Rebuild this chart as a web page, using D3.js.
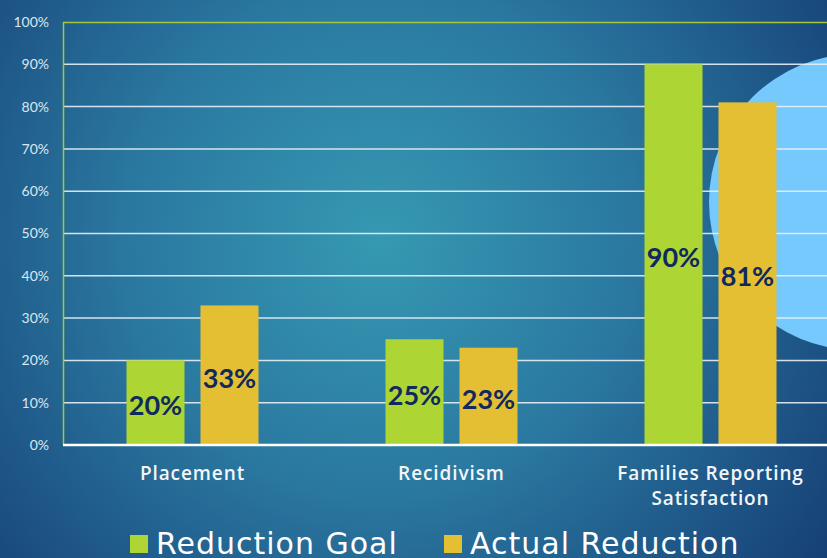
<!DOCTYPE html>
<meta charset="utf-8">
<style>
body { margin: 0; overflow: hidden; }
</style>
<body>
<script src="https://cdn.jsdelivr.net/npm/d3@7"></script>
<script>

// chart data
var categories = ["Placement", "Recidivism", "Families Reporting Satisfaction"];
var catLines = [["Placement"], ["Recidivism"], ["Families Reporting", "Satisfaction"]];
var seriesNames = ["Reduction Goal", "Actual Reduction"];
var goalValues = [20, 25, 90];
var actualValues = [33, 23, 81];
var yTicks = [0, 10, 20, 30, 40, 50, 60, 70, 80, 90, 100];

var w = 827, h = 558;
var colors = ["#add533", "#e5bf33"];

var svg = d3.select("body").append("svg")
    .attr("width", w)
    .attr("height", h)
    .attr("font-family", "Lato, sans-serif")
    .style("display", "block");

// background
var defs = svg.append("defs");
var grad = defs.append("radialGradient")
    .attr("id", "bg")
    .attr("gradientUnits", "userSpaceOnUse")
    .attr("cx", 380).attr("cy", 240).attr("r", 560);
grad.append("stop").attr("offset", "0%").attr("stop-color", "#3699b2");
grad.append("stop").attr("offset", "45%").attr("stop-color", "#2a78a0");
grad.append("stop").attr("offset", "100%").attr("stop-color", "#153d74");

svg.append("rect")
    .attr("width", w).attr("height", h)
    .attr("fill", "url(#bg)");

// decorative circle on the right
svg.append("circle")
    .attr("cx", 857).attr("cy", 202).attr("r", 148)
    .attr("fill", "#76c9fc");

var x0 = d3.scaleBand()
    .domain(categories)
    .range([63, 840]);

var x1 = d3.scaleBand()
    .domain(seriesNames)
    .range([0, x0.bandwidth()])
    .paddingInner(0.216)
    .paddingOuter(0.858);

var y = d3.scaleLinear()
    .domain([0, 100])
    .range([445, 22]);

// grid
svg.append("g")
  .selectAll("line")
  .data(yTicks.filter(function(d) { return d > 0 && d < 100; }))
  .enter()
  .append("line")
    .attr("x1", 63).attr("x2", w)
    .attr("y1", function(d) { return y(d); })
    .attr("y2", function(d) { return y(d); })
    .attr("stroke", "#e8f0f6")
    .attr("stroke-opacity", 0.9)
    .attr("stroke-width", 1.5);

// y labels
svg.append("g")
  .selectAll("text")
  .data(yTicks)
  .enter()
  .append("text")
    .attr("x", 49)
    .attr("y", function(d) { return y(d); })
    .attr("dy", "0.35em")
    .attr("text-anchor", "end")
    .attr("font-size", "14px")
    .attr("fill", "#dbe6ef")
    .text(function(d) { return d + "%"; });

// bars
var rows = categories.map(function(c, i) {
  return { cat: c, vals: [
    { key: seriesNames[0], v: goalValues[i], color: colors[0] },
    { key: seriesNames[1], v: actualValues[i], color: colors[1] }
  ] };
});

var groups = svg.append("g")
  .selectAll("g")
  .data(rows)
  .enter()
  .append("g")
    .attr("transform", function(d) { return "translate(" + x0(d.cat) + ",0)"; });

groups.selectAll("rect")
  .data(function(d) { return d.vals; })
  .enter()
  .append("rect")
    .attr("x", function(d) { return x1(d.key); })
    .attr("y", function(d) { return y(d.v); })
    .attr("width", x1.bandwidth())
    .attr("height", function(d) { return y(0) - y(d.v); })
    .attr("fill", function(d) { return d.color; });

groups.selectAll("text")
  .data(function(d) { return d.vals; })
  .enter()
  .append("text")
    .attr("x", function(d) { return x1(d.key) + x1.bandwidth() / 2; })
    .attr("y", function(d) { return (y(d.v) + y(0)) / 2 + 3; })
    .attr("dy", "0.35em")
    .attr("text-anchor", "middle")
    .attr("font-size", "27px")
    .attr("font-weight", "bold")
    .attr("fill", "#10295e")
    .text(function(d) { return d.v + "%"; });

// axes lines
svg.append("line")
    .attr("x1", 63.5).attr("x2", 63.5)
    .attr("y1", 22).attr("y2", 445)
    .attr("stroke", "#a4c83c").attr("stroke-width", 1.5);
svg.append("line")
    .attr("x1", 63).attr("x2", w)
    .attr("y1", 22.5).attr("y2", 22.5)
    .attr("stroke", "#a4c83c").attr("stroke-width", 1.5);
svg.append("line")
    .attr("x1", 63).attr("x2", w)
    .attr("y1", 445).attr("y2", 445)
    .attr("stroke", "#ffffff").attr("stroke-width", 2.5);

// category labels
var catText = svg.append("g")
  .selectAll("text")
  .data(categories)
  .enter()
  .append("text")
    .attr("x", function(d) { return x0(d) + x0.bandwidth() / 2; })
    .attr("y", 480)
    .attr("text-anchor", "middle")
    .attr("font-family", "'Open Sans', sans-serif")
    .attr("font-size", "19px")
    .attr("font-weight", 600)
    .attr("letter-spacing", "0.9px")
    .attr("fill", "#f2f6f9");

catText.selectAll("tspan")
  .data(function(d, i) { return catLines[i]; })
  .enter()
  .append("tspan")
    .attr("x", function() { return this.parentNode.getAttribute("x"); })
    .attr("dy", function(d, i) { return i === 0 ? 0 : 25; })
    .text(function(d) { return d; });

// legend
var legendX = [130, 444];
var legend = svg.append("g")
  .selectAll("g")
  .data(seriesNames)
  .enter()
  .append("g")
    .attr("transform", function(d, i) { return "translate(" + legendX[i] + ",535)"; });

legend.append("rect")
    .attr("width", 18).attr("height", 18)
    .attr("fill", function(d, i) { return colors[i]; });

legend.append("text")
    .attr("x", 26)
    .attr("y", 19)
    .attr("font-family", "'DejaVu Sans', sans-serif")
    .attr("font-size", "30px")
    .attr("letter-spacing", "1px")
    .attr("fill", "#ffffff")
    .text(function(d) { return d; });

</script>
</body>
